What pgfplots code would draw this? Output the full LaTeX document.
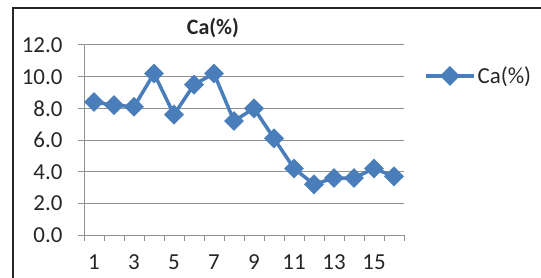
\documentclass[border=0pt]{standalone}
\usepackage{pgfplots}
\pgfplotsset{compat=1.18}
\usepackage{fontspec}
\setmainfont{Carlito}
\definecolor{exblue}{RGB}{74,126,187}
\definecolor{gridgray}{RGB}{145,145,145}
\begin{document}
\begin{tikzpicture}[x=1bp,y=1bp]
\useasboundingbox (0,0) rectangle (541,277);
\draw[line width=1.5bp, black!85] (13,-5) -- (13,269) -- (546,269);
\begin{axis}[
  at={(84bp,42bp)}, anchor=south west,
  scale only axis, width=320bp, height=190bp,
  xmin=0.5, xmax=16.5, ymin=0, ymax=12,
  axis x line*=bottom, axis y line*=left,
  axis line style={gridgray, line width=1bp, -},
  xtick={1,3,...,15}, major x tick style={draw=none},
  minor xtick={0.5,1.5,...,16.5},
  minor x tick style={gridgray, line width=1bp},
  ytick={0,2,...,12},
  major y tick style={gridgray, line width=1bp},
  tick align=outside, major tick length=6bp, minor tick length=6bp,
  ymajorgrids, grid style={gridgray, line width=1bp},
  yticklabel style={xshift=-12bp, /pgf/number format/.cd, fixed, fixed zerofill, precision=1},
  /pgf/number format/assume math mode=true,
  tick label style={font=\fontsize{23}{25}\selectfont, text=black!85},
  xticklabel style={yshift=-10bp},
  title={Ca(\%)},
  title style={at={(0.403,1.06)}, anchor=center, font=\bfseries\fontsize{22}{24}\selectfont, text=black!85},
  legend style={draw=none, fill=none, at={(1.0625,0.837)}, anchor=west, inner xsep=0pt,
    font=\fontsize{23}{25}\selectfont, text=black!85},
  legend cell align=left,
  legend image code/.code={\draw[#1, mark repeat=2, mark phase=2] plot coordinates {(0bp,0bp) (24bp,0bp) (48bp,0bp)};},
  clip=false,
]
\addplot[color=exblue, line width=3.5bp, mark=square*, mark size=5.3bp, mark options={rotate=45, solid}]
coordinates {
(1,8.4) (2,8.2) (3,8.1) (4,10.2) (5,7.6) (6,9.5) (7,10.2) (8,7.2)
(9,8.0) (10,6.1) (11,4.2) (12,3.2) (13,3.6) (14,3.6) (15,4.2) (16,3.7)
};
\addlegendentry{Ca(\%)}
\end{axis}
\end{tikzpicture}
\end{document}
